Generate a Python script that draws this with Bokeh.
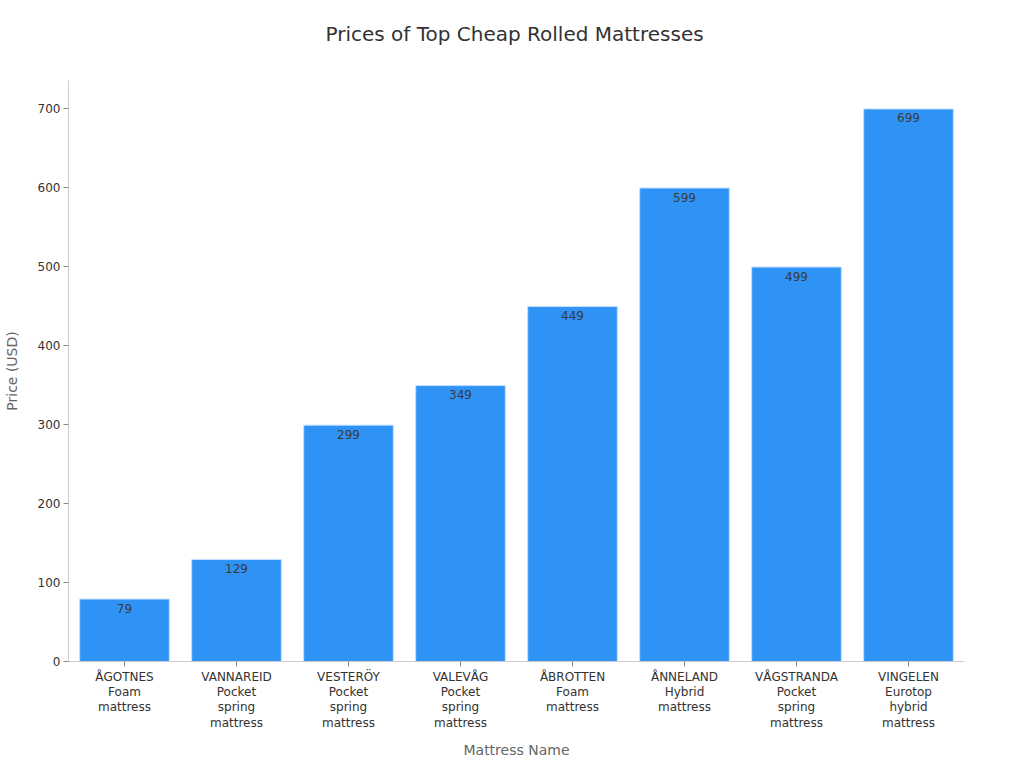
from bokeh.plotting import figure
from bokeh.models import ColumnDataSource, Range1d, FixedTicker, Title
from bokeh.core.properties import value
from bokeh.embed import file_html
from bokeh.resources import INLINE

names = ["ÅGOTNES\nFoam\nmattress", "VANNAREID\nPocket\nspring\nmattress",
         "VESTERÖY\nPocket\nspring\nmattress", "VALEVÅG\nPocket\nspring\nmattress",
         "ÅBROTTEN\nFoam\nmattress", "ÅNNELAND\nHybrid\nmattress",
         "VÅGSTRANDA\nPocket\nspring\nmattress", "VINGELEN\nEurotop\nhybrid\nmattress"]
prices = [79, 129, 299, 349, 449, 599, 499, 699]
y_ticks = [0, 100, 200, 300, 400, 500, 600, 700]
title_text = "Prices of Top Cheap Rolled Mattresses"

FONT = "DejaVu Sans"
src = ColumnDataSource(dict(name=names, price=prices, label=[str(v) for v in prices]))

p = figure(x_range=names, frame_width=896, frame_height=581, output_backend="svg",
           toolbar_location=None, title=title_text,
           min_border_left=63, min_border_right=50, min_border_top=80, min_border_bottom=96)
p.y_range = Range1d(0, 735)
p.x_range.range_padding = 0

p.vbar(x="name", top="price", width=0.8, source=src, fill_color="#2f93f5",
       line_color="#bfe0ff", line_width=1)
p.text(x="name", y="price", text="label", source=src, text_align="center",
       text_baseline="middle", y_offset=9, text_font=value(FONT),
       text_font_size="12px", text_color="#3a3a3a")

# empty spacer panel between the frame and the title
p.add_layout(Title(text=" ", text_font_size="1px", standoff=27), "above")

p.title.align = "left"
p.title.offset = 257
p.title.text_font = FONT
p.title.text_font_size = "20px"
p.title.text_font_style = "normal"
p.title.text_color = "#333333"
p.title.standoff = 10

p.xgrid.grid_line_color = None
p.ygrid.grid_line_color = None
p.outline_line_color = None

for ax in (p.xaxis[0], p.yaxis[0]):
    ax.axis_line_color = "#cccccc"
    ax.major_tick_line_color = "#888888"
    ax.major_tick_out = 5
    ax.major_tick_in = 0
    ax.minor_tick_line_color = None
    ax.major_label_text_font = FONT
    ax.major_label_text_font_size = "12px"
    ax.major_label_text_color = "#333333"
    ax.axis_label_text_font = FONT
    ax.axis_label_text_font_size = "14px"
    ax.axis_label_text_font_style = "normal"
    ax.axis_label_text_color = "#666666"

p.yaxis.ticker = FixedTicker(ticks=y_ticks)
p.yaxis.axis_label = "Price (USD)"
p.yaxis.major_label_standoff = 3
p.yaxis.axis_label_standoff = 15
p.xaxis.axis_label = "Mattress Name"
p.xaxis.major_label_standoff = 3
p.xaxis.major_label_text_line_height = 1.1
p.xaxis.axis_label_standoff = 9

open("out.html", "w").write(file_html(p, INLINE))
